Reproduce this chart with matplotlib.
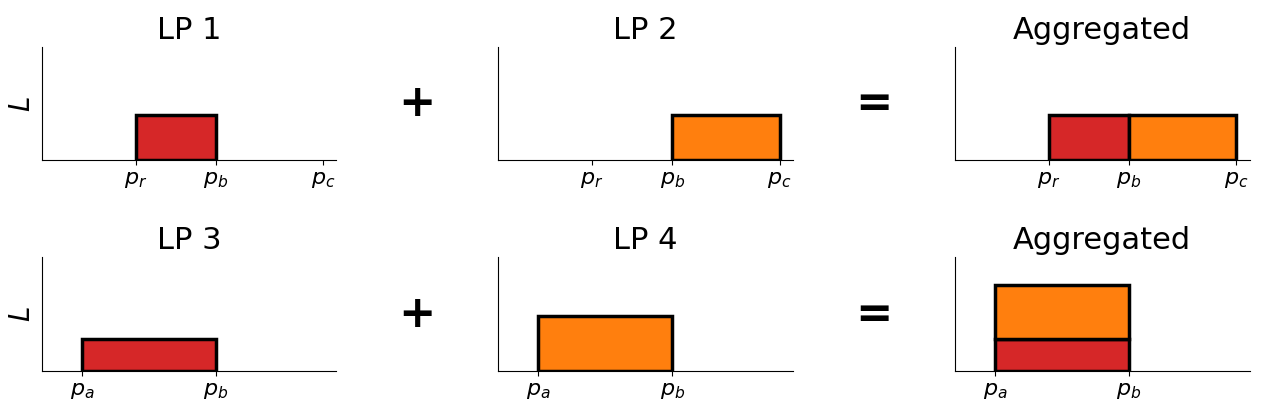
import matplotlib.pyplot as plt

# price points along the x axis
p_a, p_r, p_b, p_c = 1.5, 3.5, 6.5, 10.5

# liquidity positions: range start, range end, liquidity level
lp_names = ['LP 1', 'LP 2', 'LP 3', 'LP 4']
lp_start = [p_r, p_b, p_a, p_a]
lp_end = [p_b, p_c, p_b, p_b]
lp_level = [0.4, 0.4, 0.28, 0.48]

row_ticks = [[p_r, p_b, p_c], [p_a, p_b]]
row_labels = [['$p_r$', '$p_b$', '$p_c$'], ['$p_a$', '$p_b$']]

red = '#d62728'
orange = '#ff7f0e'

fig, axes = plt.subplots(2, 3, figsize=(12.66, 4.08), dpi=100)
fig.subplots_adjust(left=0.033, right=0.987, top=0.885, bottom=0.091,
                    wspace=0.549, hspace=0.855)


def block(ax, x0, x1, h, base, color):
    ax.bar(x0, h, width=x1 - x0, bottom=base, align='edge', color=color,
           edgecolor='black', linewidth=2.5)


for row in range(2):
    i, j = 2 * row, 2 * row + 1
    block(axes[row, 0], lp_start[i], lp_end[i], lp_level[i], 0, red)
    block(axes[row, 1], lp_start[j], lp_end[j], lp_level[j], 0, orange)
    # aggregated: stack the second position where the ranges overlap
    agg = axes[row, 2]
    block(agg, lp_start[i], lp_end[i], lp_level[i], 0, red)
    overlap = lp_start[j] < lp_end[i] and lp_end[j] > lp_start[i]
    base = lp_level[i] if overlap else 0
    block(agg, lp_start[j], lp_end[j], lp_level[j], base, orange)

    titles = [lp_names[i], lp_names[j], 'Aggregated']
    for col in range(3):
        ax = axes[row, col]
        ax.set_xlim(0, 11)
        ax.set_ylim(0, 1)
        ax.set_xticks(row_ticks[row])
        ax.set_xticklabels(row_labels[row], fontsize=16)
        ax.set_yticks([])
        ax.spines['top'].set_visible(False)
        ax.spines['right'].set_visible(False)
        ax.set_title(titles[col], fontsize=22)
    axes[row, 0].set_ylabel('$L$', fontsize=20)

    # operator signs between the panels
    for col, sign in [(0, '+'), (1, '=')]:
        b0 = axes[row, col].get_position()
        b1 = axes[row, col + 1].get_position()
        fig.text((b0.x1 + b1.x0) / 2, (b0.y0 + b0.y1) / 2, sign,
                 fontsize=32, fontweight='bold', ha='center', va='center')

fig.savefig('out.png', dpi=100)
